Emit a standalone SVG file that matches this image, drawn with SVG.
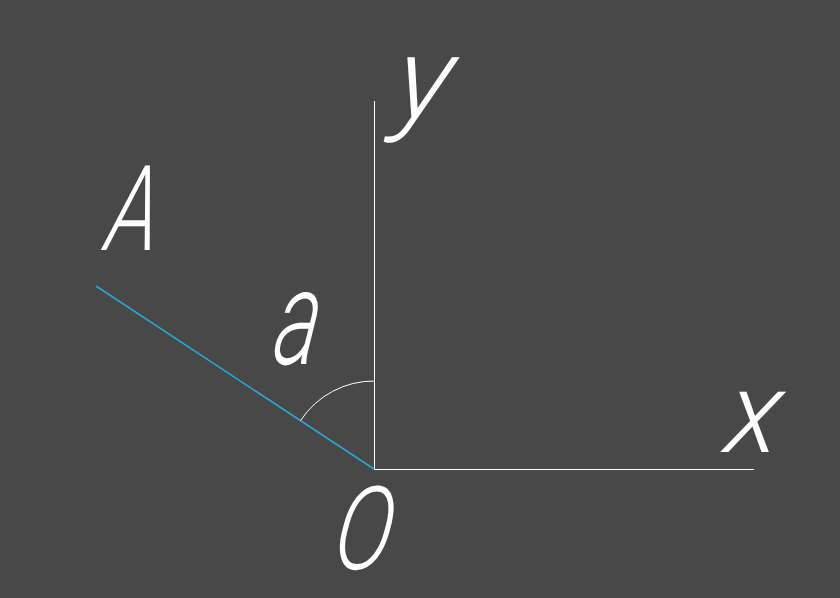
<svg xmlns="http://www.w3.org/2000/svg" width="840" height="598" viewBox="0 0 840 598">
<style>
.lbl{font-family:Roboto,"Liberation Sans",sans-serif;font-style:italic;font-weight:300;fill:#ffffff}
.ax{stroke:#ffffff;stroke-width:1;fill:none}
</style>
<rect width="840" height="598" fill="#484848"/>
<g id="connectors">
<line class="ax" x1="374.5" y1="101" x2="374.5" y2="469.5"/>
<line class="ax" x1="374.5" y1="469.5" x2="754" y2="469.5"/>
<line x1="96" y1="286" x2="374" y2="469" stroke="#2aa7d5" stroke-width="1.5"/>
<path class="ax" d="M300.5 420.6 A88 88 0 0 1 374.5 381"/>
</g>
<g id="label-y"><text class="lbl" transform="translate(392 118) skewX(-8) scale(1.05 1)" font-size="115">y</text></g>
<g id="label-A"><text class="lbl" transform="translate(104 250) skewX(-8) scale(0.71 1)" font-size="119">A</text></g>
<g id="label-a"><text class="lbl" transform="translate(271 364) skewX(-8) scale(0.64 1)" font-size="134">a</text></g>
<g id="label-x"><text class="lbl" transform="translate(723 452) skewX(-8)" font-size="114">x</text></g>
<g id="label-O"><text class="lbl" transform="translate(331 569) skewX(-8) scale(0.76 1)" font-size="116">O</text></g>
</svg>
